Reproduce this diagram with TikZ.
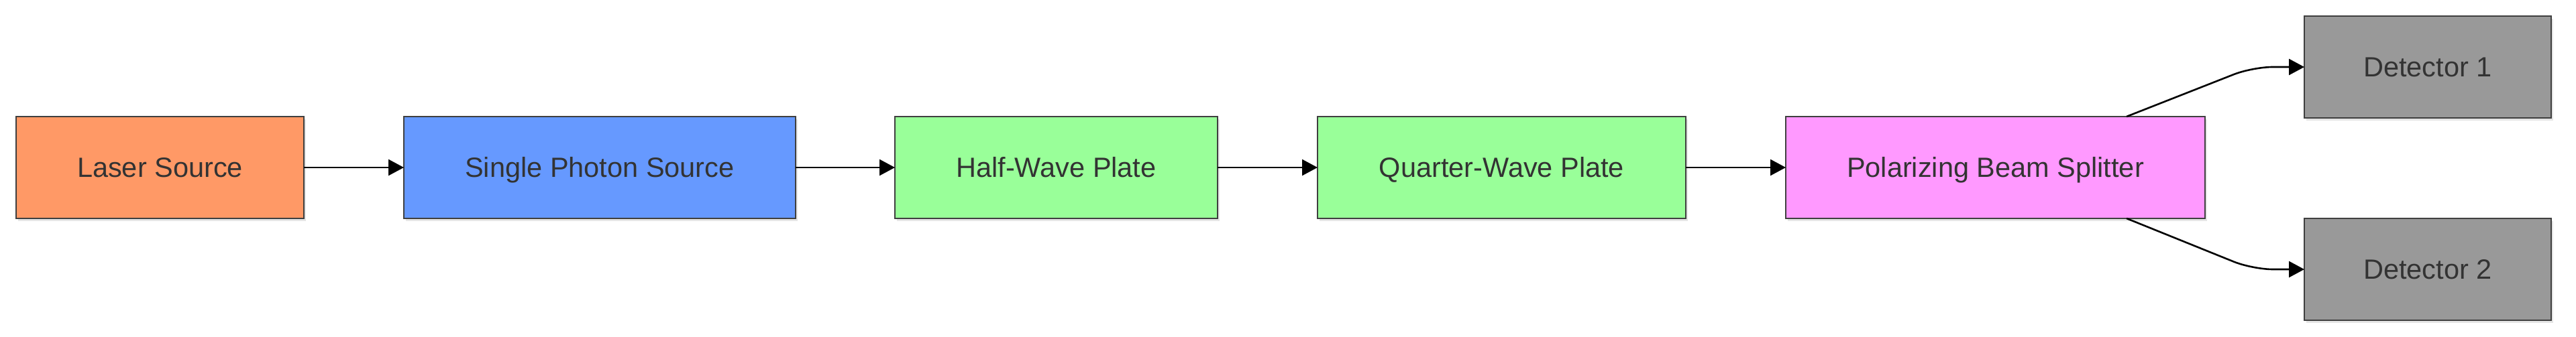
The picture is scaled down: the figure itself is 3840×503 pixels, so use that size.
\documentclass[tikz,border=0pt]{standalone}
\usepackage{fontspec}
\setmainfont{Liberation Sans}
\usetikzlibrary{arrows.meta,shadows}

\definecolor{lasercol}{HTML}{FF9966}
\definecolor{photoncol}{HTML}{6699FF}
\definecolor{platecol}{HTML}{99FF99}
\definecolor{splitcol}{HTML}{FF99FF}
\definecolor{detcol}{HTML}{999999}
\definecolor{edgecol}{HTML}{3F3F3F}
\definecolor{textcol}{HTML}{333333}

\begin{document}
\begin{tikzpicture}[x=1pt,y=1pt,
  part/.style={draw=edgecol,line width=2.5pt,minimum height=152pt,outer sep=0pt,inner sep=0pt,
    text=textcol,font=\fontsize{41.5}{50}\selectfont,text height=30pt,text depth=0pt,
    drop shadow={shadow xshift=3pt,shadow yshift=-4pt,opacity=0.10,fill=black}},
  flow/.style={line width=2.6pt,-{Triangle[length=23pt,width=24pt]}}]

\useasboundingbox (0,0) rectangle (3840,503);

\node[part,fill=lasercol,minimum width=429pt] (laser) at (238.5,253) {Laser Source};
\node[part,fill=photoncol,minimum width=584pt] (sps) at (894,253) {Single Photon Source};
\node[part,fill=platecol,minimum width=481pt] (hwp) at (1574.5,253) {Half-Wave Plate};
\node[part,fill=platecol,minimum width=549pt] (qwp) at (2238.5,253) {Quarter-Wave Plate};
\node[part,fill=splitcol,minimum width=625pt] (pbs) at (2974.5,253) {Polarizing Beam Splitter};
\node[part,fill=detcol,minimum width=368pt] (det1) at (3619,403) {Detector 1};
\node[part,fill=detcol,minimum width=368pt] (det2) at (3619,101) {Detector 2};


\foreach \a/\b in {laser/sps,sps/hwp,hwp/qwp,qwp/pbs}
{
\draw[flow] (\a.east)--(\b.west);
}

\draw[flow,rounded corners=30pt] ([xshift=-117pt]pbs.north east)--([xshift=-77pt]det1.west)--(det1.west);
\draw[flow,rounded corners=30pt] ([xshift=-117pt]pbs.south east)--([xshift=-77pt]det2.west)--(det2.west);

\end{tikzpicture}
\end{document}
